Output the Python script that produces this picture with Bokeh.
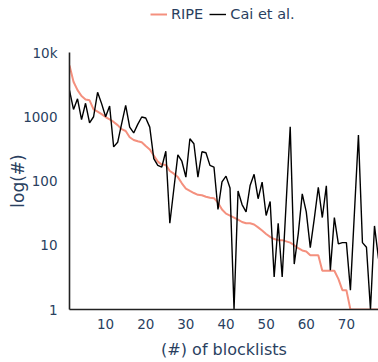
from bokeh.plotting import figure
from bokeh.models import Legend, LegendItem, FixedTicker, ColumnDataSource
from bokeh.layouts import column
from bokeh.embed import file_html
from bokeh.resources import INLINE

x_vals = list(range(1, 79))
ripe = [6300, 3500, 2600, 2100, 1850, 1800, 1300, 1200, 1100, 990,
        910, 830, 740, 640, 600, 480, 435, 415, 400, 350,
        310, 250, 200, 180, 178, 143, 130, 115, 92, 76,
        70, 65, 61, 60, 57, 55, 54, 46, 36, 31,
        29, 27, 25, 23, 22, 22, 21, 19, 17, 15,
        13.5, 12.5, 12, 12, 11.5, 11, 10, 9, 8.3, 8,
        7, 7, 7, 4, 4, 4, 4, 3, 2, 2,
        1, 1, 1, 1, 1, 1, 1, 1]
cai = [2570, 1300, 1900, 900, 1620, 800, 1000, 2400, 1600, 1000,
       1470, 340, 400, 780, 1500, 690, 560, 760, 990, 955,
       690, 223, 175, 165, 290, 22, 75, 255, 203, 115,
       455, 380, 115, 285, 275, 175, 165, 36, 97, 119,
       78, 1, 70, 43, 33, 85, 127, 53, 96, 29,
       48, 3.2, 22, 3.2, 47, 700, 5.1, 15, 63, 33,
       9.2, 26, 80, 27, 84, 4.1, 27, 10.5, 11, 11,
       2, 32, 520, 11, 9.3, 1, 20, 6.2]
x_ticks = [10, 20, 30, 40, 50, 60, 70]
y_ticks = [1, 10, 100, 1000, 10000]
y_tick_labels = ["1", "10", "100", "1000", "10k"]
series_names = ["RIPE", "Cai et al."]

ripe_color = "#F4907E"
font = "DejaVu Sans"
tick_col = "#2a3f5f"

src = ColumnDataSource(dict(x=x_vals, ripe=ripe, cai=cai))

# legend strip on top (its frame is aligned with the main plot's frame)
leg_fig = figure(width=378, height=30, output_backend="svg", toolbar_location=None,
                 x_range=(0, 1), y_range=(0, 1),
                 min_border_left=69, min_border_right=0, min_border_top=0, min_border_bottom=0)
leg_fig.axis.visible = False
leg_fig.grid.visible = False
leg_fig.outline_line_color = None
l1 = leg_fig.line([5, 6], [5, 6], line_color=ripe_color, line_width=2)
l2 = leg_fig.line([5, 6], [5, 6], line_color="black", line_width=1.4)
legend = Legend(items=[LegendItem(label=series_names[0], renderers=[l1]),
                       LegendItem(label=series_names[1], renderers=[l2])],
                orientation="horizontal", location=(81, 8))
legend.label_text_font = font
legend.label_text_font_size = "14.5px"
legend.label_text_color = tick_col
legend.border_line_color = None
legend.background_fill_alpha = 0
legend.padding = 0
legend.margin = 0
legend.spacing = 6
legend.glyph_width = 17
legend.label_standoff = 4
legend.glyph_height = 16
legend.label_height = 16
leg_fig.add_layout(legend, "center")

p = figure(width=378, height=332, output_backend="svg", toolbar_location=None,
           y_axis_type="log", x_range=(1, 78), y_range=(1, 10000),
           min_border_left=69, min_border_right=0, min_border_top=22,
           min_border_bottom=53, background_fill_color="white",
           border_fill_color="white")
p.outline_line_color = None
p.grid.visible = False

r1 = p.line("x", "ripe", source=src, line_color=ripe_color, line_width=2)
r2 = p.line("x", "cai", source=src, line_color="black", line_width=1.4)

for ax in (p.xaxis[0], p.yaxis[0]):
    ax.axis_line_color = "#222222"
    ax.axis_line_width = 1.6
    ax.major_tick_line_color = None
    ax.minor_tick_line_color = None
    ax.major_label_text_font = font
    ax.major_label_text_font_size = "13.5px"
    ax.major_label_text_color = tick_col
    ax.axis_label_text_font = font
    ax.axis_label_text_font_style = "normal"
    ax.axis_label_text_color = tick_col

p.xaxis.ticker = FixedTicker(ticks=x_ticks)
p.yaxis.ticker = FixedTicker(ticks=y_ticks)
p.yaxis.major_label_overrides = {t: l for t, l in zip(y_ticks, y_tick_labels)}
p.xaxis.major_label_standoff = 3
p.yaxis.major_label_standoff = 6
p.xaxis.axis_label = "(#) of blocklists"
p.yaxis.axis_label = "log(#)"
p.xaxis.axis_label_text_font_size = "16px"
p.yaxis.axis_label_text_font_size = "17px"
p.xaxis.axis_label_standoff = 8
p.yaxis.axis_label_standoff = -8

layout = column(leg_fig, p, spacing=0)
open("out.html", "w").write(file_html(layout, INLINE))
